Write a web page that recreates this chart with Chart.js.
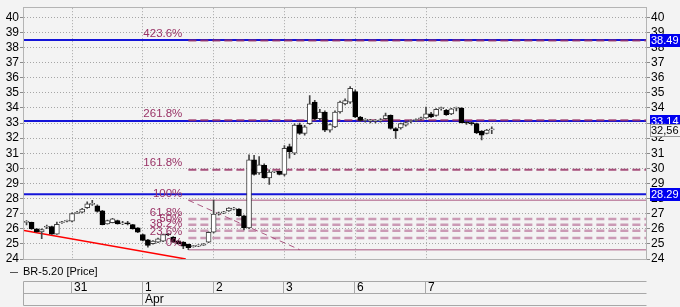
<!DOCTYPE html>
<html><head><meta charset="utf-8">
<script src="https://cdn.jsdelivr.net/npm/chart.js@4.4.1/dist/chart.umd.min.js"></script>
<style>
html,body{margin:0;padding:0;background:#f3f3f3;}
canvas{display:block;}
</style>
</head><body>
<canvas id="c" width="680" height="307"></canvas>
<script>
// ---------------- data ----------------
const seriesName = 'BR-5.20 [Price]';
const totalSlots = 123;              // bar slots on the axis (incl. empty right margin)
const dayLabels = ['31','1','2','3','6','7'];
const dayStartBars = [9,23,37,51,65,79];
const monthLabels = ['Apr'];
const monthStartBars = [23];
const yTicks = [24,25,26,27,28,29,30,31,32,33,34,35,36,37,38,39,40];

const opens  = [26.42,26.42,26.00,25.80,26.10,26.15,25.65,26.40,26.50,26.50,27.02,27.10,27.40,27.62,27.52,27.19,26.32,26.40,26.54,26.32,26.33,26.27,26.06,25.62,25.27,25.01,25.12,25.18,25.62,25.45,25.20,25.12,24.97,24.82,24.85,24.92,25.12,25.77,26.98,27.05,27.19,27.30,27.30,26.86,26.06,30.57,29.69,30.20,29.37,29.76,29.80,29.59,31.44,31.00,32.88,32.31,32.96,34.38,33.29,33.73,32.53,32.75,33.73,34.27,34.38,35.08,33.40,33.18,33.12,33.12,33.15,33.29,33.51,32.64,32.68,32.86,33.10,33.17,33.28,33.33,33.61,33.51,33.95,33.84,33.61,33.98,33.99,33.02,32.98,32.96,32.46,32.31,32.55];
const highs  = [26.55,26.45,26.02,26.00,26.25,26.18,26.45,26.50,26.58,27.05,27.15,27.35,27.78,27.89,27.58,27.22,26.58,26.70,26.58,26.50,26.50,26.30,26.08,25.65,25.30,25.22,25.38,25.65,25.68,25.48,25.22,25.15,24.99,24.90,24.95,25.02,25.80,27.90,27.10,27.15,27.40,27.42,27.33,26.90,30.90,30.86,30.78,30.30,29.90,29.80,29.82,31.50,31.60,32.95,33.00,32.85,34.82,34.50,33.90,33.80,32.95,33.80,34.45,34.60,35.42,35.20,33.45,33.30,33.25,33.22,33.30,33.65,33.55,32.70,33.00,33.10,33.20,33.28,33.40,34.05,33.70,33.95,34.05,33.90,33.98,34.05,34.02,33.10,33.05,33.00,32.50,32.58,32.75];
const lows   = [26.25,25.95,25.78,25.35,26.00,25.62,25.62,26.35,26.45,26.45,27.00,27.05,27.35,27.55,27.10,26.25,26.30,26.38,26.30,26.28,26.25,25.97,25.75,25.20,24.79,24.98,25.08,25.15,25.55,25.10,24.98,24.69,24.62,24.78,24.82,24.90,25.08,25.72,26.90,27.00,27.15,27.25,26.84,25.93,26.00,29.55,29.60,29.35,28.93,29.72,29.57,29.50,30.67,30.90,32.25,32.20,32.90,33.20,33.20,32.42,32.40,32.70,33.65,34.20,34.30,33.35,33.10,33.05,33.00,33.00,33.05,33.25,32.60,31.98,32.60,32.80,33.00,33.10,33.20,33.30,33.35,33.45,33.85,33.50,33.55,33.80,33.00,32.90,32.85,32.30,31.88,32.28,32.30];
const closes = [26.45,26.00,25.80,25.95,26.15,25.65,26.30,26.43,26.54,27.00,27.08,27.30,27.65,27.67,27.15,26.27,26.54,26.66,26.32,26.33,26.32,25.99,25.77,25.23,24.90,25.18,25.34,25.62,25.60,25.12,25.00,24.85,24.75,24.85,24.92,25.00,25.77,26.97,27.02,27.10,27.37,27.32,26.86,26.06,30.57,29.59,30.24,29.37,29.76,29.77,29.59,31.33,31.11,32.86,32.31,32.75,34.27,33.29,33.73,32.53,32.90,33.73,34.38,34.49,35.29,33.40,33.18,33.18,33.13,33.14,33.17,33.50,32.64,32.47,32.96,33.03,33.12,33.19,33.30,33.61,33.40,33.90,33.98,33.55,33.94,33.99,33.03,33.00,32.96,32.35,32.20,32.53,32.56];

const levelLines  = [38.49, 33.14, 28.29];
const levelTexts  = ['38.49','33.14','28.29'];
const lastPriceText = '32,56';

const fibLevels = [24.62, 25.39, 25.87, 26.26, 26.64, 27.89, 29.91, 33.18, 38.47];
const fibLabels = ['0%','23.6%','38.2%','50%','61.8%','100%','161.8%','261.8%','423.6%'];
const fibStartBar = 32;
const fibDiagonal = [{x:32, y:27.89}, {x:54, y:24.62}];
const trendLine   = [{x:-0.5, y:25.88}, {x:31.5, y:24.0}];

// ---------------- build ----------------
const FONT = "'Liberation Sans', Arial, sans-serif";
Chart.defaults.font.family = FONT;
Chart.defaults.font.size = 12;
Chart.defaults.color = '#000';

const up = closes.map((c, i) => c >= opens[i]);
const fibStyle = (i) => {
  const r = fibLabels[i];
  if (r === '0%' || r === '100%') return {color: 'rgba(153,51,102,0.55)', width: 1.5, dash: []};
  if (r === '161.8%' || r === '261.8%' || r === '423.6%') return {color: 'rgba(153,51,102,0.85)', width: 2, dash: [8,4]};
  return {color: 'rgba(170,80,130,0.55)', width: 2.5, dash: [8,4]};
};

const lineDatasets = [];
levelLines.forEach(v => lineDatasets.push({
  type: 'line', order: 4,
  data: [{x: -0.5, y: v}, {x: totalSlots - 0.5, y: v}],
  borderColor: '#1414d8', borderWidth: 2, pointRadius: 0, tension: 0
}));
fibLevels.forEach((v, i) => {
  const s = fibStyle(i);
  lineDatasets.push({
    type: 'line', order: 3,
    data: [{x: fibStartBar, y: v}, {x: totalSlots - 0.5, y: v}],
    borderColor: s.color, borderWidth: s.width, borderDash: s.dash, pointRadius: 0, tension: 0
  });
});
lineDatasets.push({
  type: 'line', order: 3,
  data: fibDiagonal, borderColor: 'rgba(153,51,102,0.8)', borderWidth: 1, borderDash: [6,4], pointRadius: 0
});
lineDatasets.push({
  type: 'line', order: 3,
  data: trendLine, borderColor: '#ff0000', borderWidth: 1.5, pointRadius: 0
});

const overlay = {
  id: 'overlay',
  afterDatasetsDraw(chart) {
    const ctx = chart.ctx;
    const x = chart.scales.x, y = chart.scales.y;
    ctx.save();
    ctx.font = '11.5px ' + FONT;
    ctx.fillStyle = '#993366';
    ctx.textAlign = 'right';
    ctx.textBaseline = 'middle';
    const lx = x.getPixelForValue(fibStartBar) - 6;
    fibLevels.forEach((v, i) => ctx.fillText(fibLabels[i], lx, y.getPixelForValue(v) - 6.5));
    ctx.restore();
  },
  afterDraw(chart) {
    const ctx = chart.ctx, ca = chart.chartArea;
    const x = chart.scales.x, y = chart.scales.y;
    ctx.save();
    // frame
    ctx.strokeStyle = '#b4b4b4';
    ctx.lineWidth = 1;
    ctx.strokeRect(Math.round(ca.left) - 0.5, Math.round(ca.top) - 0.5, Math.round(ca.right - ca.left) + 1, Math.round(ca.bottom - ca.top) + 1);
    // right price boxes
    ctx.font = '11px ' + FONT;
    ctx.textAlign = 'left';
    ctx.textBaseline = 'middle';
    const bx = ca.right + 4;
    levelLines.forEach((v, i) => {
      const py = Math.round(y.getPixelForValue(v));
      ctx.fillStyle = '#0000f0';
      ctx.fillRect(bx, py - 6, 680 - bx, 13);
      ctx.fillStyle = '#ffffff';
      ctx.fillText(levelTexts[i], bx + 1, py + 0.5);
    });
    const lp = Math.round(y.getPixelForValue(closes[closes.length - 1]));
    ctx.fillStyle = '#f3f3f3';
    ctx.fillRect(bx, lp - 6, 680 - bx, 13);
    ctx.strokeStyle = '#9a9a9a';
    ctx.strokeRect(bx + 0.5, lp - 5.5, 680 - bx, 12);
    ctx.fillStyle = '#000';
    ctx.fillText(lastPriceText, bx + 1, lp + 0.5);
    // legend
    ctx.font = '11px ' + FONT;
    ctx.strokeStyle = '#555';
    ctx.beginPath(); ctx.moveTo(10, 272.5); ctx.lineTo(18, 272.5); ctx.stroke();
    ctx.fillStyle = '#000';
    ctx.fillText(seriesName, 23, 272);
    // date table
    ctx.font = '12px ' + FONT;
    const L = Math.round(ca.left) - 0.5, R = Math.round(ca.right) + 0.5;
    const r0 = 281.5, r1 = 293.5, r2 = 305.5;
    ctx.strokeStyle = '#a8a8a8';
    ctx.beginPath();
    [r0, r1, r2].forEach(r => { ctx.moveTo(L, r); ctx.lineTo(R, r); });
    ctx.moveTo(L, r0); ctx.lineTo(L, r2);
    dayStartBars.forEach(b => { const px = Math.round(x.getPixelForValue(b)) - 0.5; ctx.moveTo(px, r0); ctx.lineTo(px, r1); });
    monthStartBars.forEach(b => { const px = Math.round(x.getPixelForValue(b)) - 0.5; ctx.moveTo(px, r1); ctx.lineTo(px, r2); });
    ctx.stroke();
    ctx.fillStyle = '#000';
    dayStartBars.forEach((b, i) => ctx.fillText(dayLabels[i], Math.round(x.getPixelForValue(b)) + 2, 287.5));
    monthStartBars.forEach((b, i) => ctx.fillText(monthLabels[i], Math.round(x.getPixelForValue(b)) + 2, 300));
    ctx.restore();
  }
};

new Chart(document.getElementById('c'), {
  type: 'bar',
  data: {
    datasets: [
      {
        label: seriesName + ' body', order: 0,
        data: opens.map((o, i) => ({x: i, y: [o, closes[i]]})),
        backgroundColor: up.map(u => u ? '#ffffff' : '#000000'),
        borderColor: up.map(u => u ? '#404040' : '#000000'),
        borderWidth: 1, borderSkipped: false, barThickness: 5, minBarLength: 1, grouped: false
      },
      {
        label: seriesName + ' wick', order: 1,
        data: lows.map((l, i) => ({x: i, y: [l, highs[i]]})),
        backgroundColor: '#444444', borderWidth: 0, barThickness: 1, grouped: false
      },
      ...lineDatasets
    ]
  },
  options: {
    responsive: false, animation: false, devicePixelRatio: 1,
    layout: {padding: {left: 0, right: 0, top: 5, bottom: 48}},
    plugins: {legend: {display: false}, tooltip: {enabled: false}},
    scales: {
      x: {
        type: 'linear', position: 'bottom', min: -0.5, max: totalSlots - 0.5, offset: false,
        afterBuildTicks: s => { s.ticks = dayStartBars.map(v => ({value: v})); },
        afterFit: s => { s.height = 0; s.paddingLeft = 0; s.paddingRight = 0; },
        grid: {color: '#a6a6a6', drawTicks: false, lineWidth: 1, offset: false},
        border: {display: false, dash: [1, 2]},
        ticks: {display: false}
      },
      y: {
        type: 'linear', position: 'left', min: 24, max: 40.6,
        afterBuildTicks: s => { s.ticks = yTicks.map(v => ({value: v})); },
        afterFit: s => { s.width = 24; },
        grid: {color: '#a6a6a6', lineWidth: 1, tickLength: 4, tickColor: '#8a8a8a', tickBorderDash: []},
        border: {display: false, dash: [1, 2]},
        ticks: {padding: 1, color: '#000', font: {size: 12}, autoSkip: false}
      },
      y2: {
        type: 'linear', position: 'right', min: 24, max: 40.6,
        afterBuildTicks: s => { s.ticks = yTicks.map(v => ({value: v})); },
        afterFit: s => { s.width = 34; },
        grid: {drawOnChartArea: false, tickLength: 4, tickColor: '#8a8a8a', tickBorderDash: []},
        border: {display: false},
        ticks: {padding: 1, color: '#000', font: {size: 12}, autoSkip: false}
      }
    }
  },
  plugins: [overlay]
});
</script>
</body></html>
